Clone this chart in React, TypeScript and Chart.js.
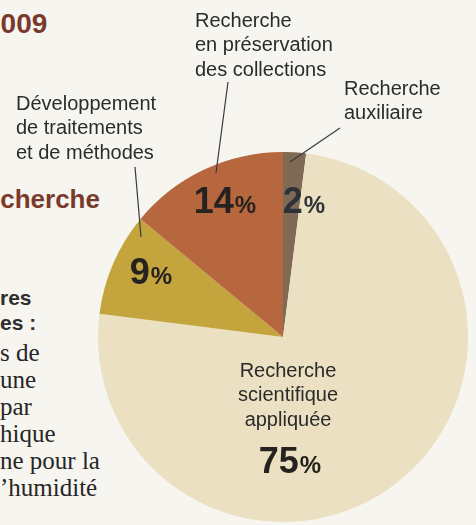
import React, { useEffect, useRef } from "react";
import { Chart, registerables } from "chart.js";

Chart.register(...registerables);

// ---- data ----
const CATEGORIES = [
  "Recherche auxiliaire",
  "Recherche scientifique appliquée",
  "Développement de traitements et de méthodes",
  "Recherche en préservation des collections",
];
const SHARES = [2, 75, 9, 14];
const SLICE_COLORS = ["#7e6a55", "#ebe0c1", "#c3a43d", "#b7673e"];
const CATEGORY_LINES = [
  ["Recherche", "auxiliaire"],
  ["Recherche", "scientifique", "appliquée"],
  ["Développement", "de traitements", "et de méthodes"],
  ["Recherche", "en préservation", "des collections"],
];
const PCT_COLORS = ["#2d3239", "#262220", "#262220", "#262220"];

// page fragments around the chart (scanned page)
const PAGE_HEADINGS = ["2009", "Recherche"];
const PAGE_BOLD = ["res", "es :"];
const PAGE_BODY = ["s de", "une", "par", "hique", "ne pour la", "’humidité"];

// ---- label layout (offsets from pie centre, for radius 185) ----
const PCT_POS = [
  [21, -124],
  [7, 136],
  [-132, -53],
  [-58, -124],
];
const NAME_POS = [
  { x: 61, y: -242, align: "left" },
  { x: 5, y: 40, align: "center" },
  { x: -267, y: -227, align: "left" },
  { x: -88, y: -310, align: "left" },
];
const LEADERS: (number[] | null)[] = [
  [57, -209, 7, -175],
  null,
  [-148, -170, -142, -100],
  [-55, -255, -67, -164],
];

const SANS = '"Liberation Sans", Arial, sans-serif';

const labelPlugin = {
  id: "sliceLabels",
  afterDraw(chart: any) {
    const meta = chart.getDatasetMeta(0);
    const arc = meta.data[0];
    if (!arc) return;
    const cx = arc.x;
    const cy = arc.y;
    const k = arc.outerRadius / 185;
    const ctx = chart.ctx;
    ctx.save();
    // leader lines
    ctx.strokeStyle = "#3a3a3a";
    ctx.lineWidth = 1.2;
    LEADERS.forEach((l) => {
      if (!l) return;
      ctx.beginPath();
      ctx.moveTo(cx + l[0] * k, cy + l[1] * k);
      ctx.lineTo(cx + l[2] * k, cy + l[3] * k);
      ctx.stroke();
    });
    // category names
    ctx.fillStyle = "#2b2b2b";
    ctx.font = `20px ${SANS}`;
    ctx.textBaseline = "alphabetic";
    CATEGORY_LINES.forEach((lines, i) => {
      const p = NAME_POS[i];
      ctx.textAlign = p.align;
      lines.forEach((t, j) => {
        ctx.fillText(t, cx + p.x * k, cy + (p.y + j * 24.3) * k);
      });
    });
    // percentages
    ctx.textAlign = "left";
    SHARES.forEach((v, i) => {
      const num = String(v);
      ctx.font = `bold 36px ${SANS}`;
      const wn = ctx.measureText(num).width;
      ctx.font = `bold 24px ${SANS}`;
      const wp = ctx.measureText("%").width + 1;
      const x0 = cx + PCT_POS[i][0] * k - (wn + wp) / 2;
      const y0 = cy + PCT_POS[i][1] * k;
      ctx.fillStyle = PCT_COLORS[i];
      ctx.font = `bold 36px ${SANS}`;
      ctx.fillText(num, x0, y0);
      ctx.font = `bold 24px ${SANS}`;
      ctx.fillText("%", x0 + wn + 1, y0);
    });
    ctx.restore();
  },
};

export default function App() {
  const ref = useRef<HTMLCanvasElement | null>(null);

  useEffect(() => {
    if (!ref.current) return;
    const chart = new Chart(ref.current, {
      type: "pie",
      data: {
        labels: CATEGORIES,
        datasets: [
          {
            data: SHARES,
            backgroundColor: SLICE_COLORS,
            borderWidth: 0,
          },
        ],
      },
      options: {
        responsive: false,
        animation: false,
        rotation: 0,
        layout: { padding: { left: 98, right: 8, top: 152, bottom: 3 } },
        plugins: {
          legend: { display: false },
          tooltip: { enabled: false },
          title: { display: false },
        },
      },
      plugins: [labelPlugin],
    });
    return () => chart.destroy();
  }, []);

  const serif = '"Liberation Serif", "Times New Roman", serif';
  return (
    <div
      style={{
        position: "fixed",
        left: 0,
        top: 0,
        width: 476,
        height: 525,
        overflow: "hidden",
        background: "#f7f5ef",
      }}
    >
      <svg
        width={476}
        height={525}
        style={{ position: "absolute", left: 0, top: 0 }}
      >
        <text x={-15} y={33} fontFamily={SANS} fontWeight="bold" fontSize={28} fill="#7a3a2b">
          {PAGE_HEADINGS[0]}
        </text>
        <text x={-33} y={208} fontFamily={SANS} fontWeight="bold" fontSize={26} fill="#7a3a2b">
          {PAGE_HEADINGS[1]}
        </text>
        {PAGE_BOLD.map((t, i) => (
          <text key={t} x={0} y={305 + i * 25} fontFamily={SANS} fontWeight="bold" fontSize={21} fill="#2e2e2e">
            {t}
          </text>
        ))}
        {PAGE_BODY.map((t, i) => (
          <text key={t} x={0} y={361 + i * 27} fontFamily={serif} fontSize={25} fill="#262626">
            {t}
          </text>
        ))}
      </svg>
      <canvas
        ref={ref}
        width={476}
        height={525}
        style={{ position: "absolute", left: 0, top: 0 }}
      />
    </div>
  );
}
